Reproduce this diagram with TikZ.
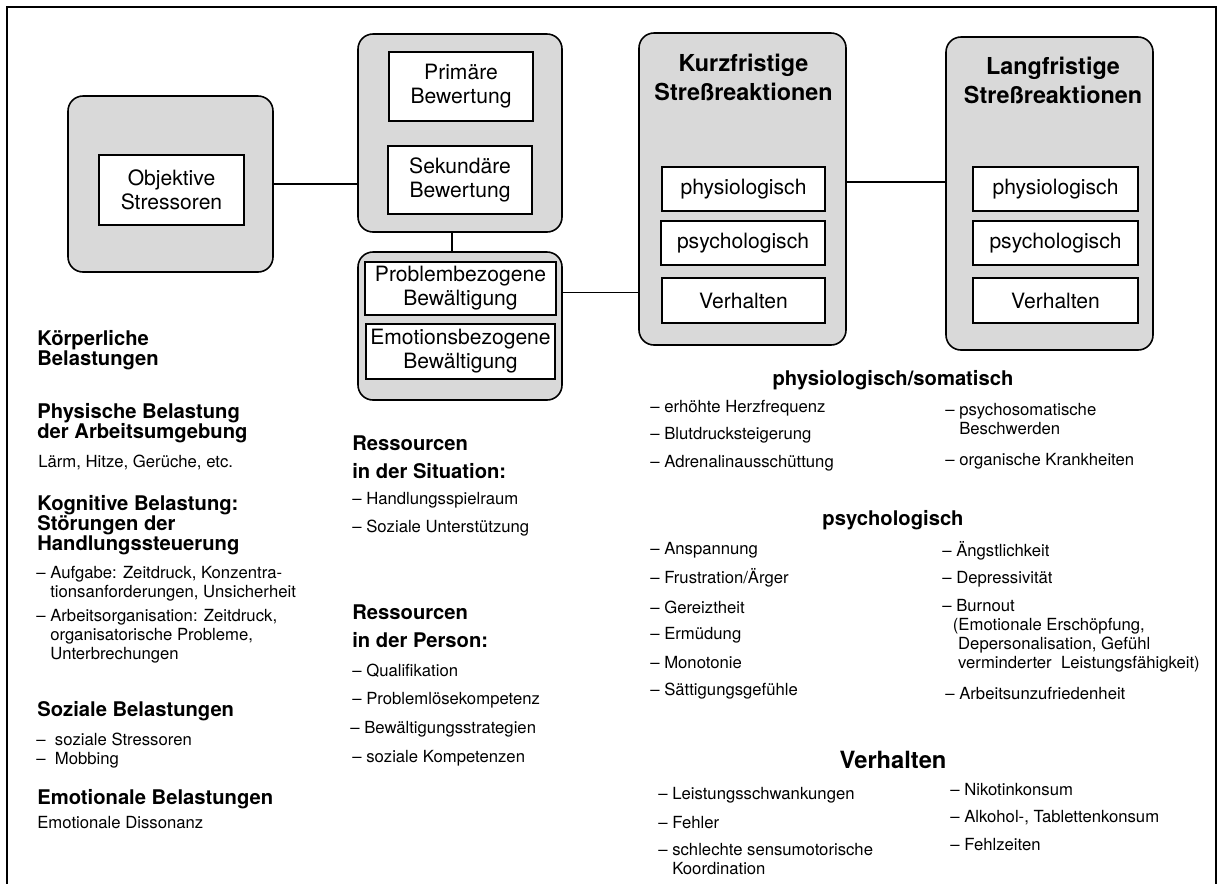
\documentclass[tikz,border=0pt]{standalone}
\usepackage{fontspec}
\setmainfont{TeX Gyre Heros}
\usepackage{tikz}
\definecolor{boxgray}{gray}{0.85}

\begin{document}
\begin{tikzpicture}[line cap=round,
  grey box/.style={draw, line width=0.9pt, fill=boxgray, rounded corners=0.3cm, inner sep=0pt},
  white box/.style={draw, line width=0.9pt, fill=white, inner sep=0pt, align=center, font=\fontsize{12}{13.6}\selectfont},
  box title/.style={align=center, inner sep=0pt, font=\bfseries\fontsize{13.3}{17}\selectfont},
  heading/.style={anchor=west, align=left, inner sep=0pt, font=\bfseries\fontsize{11.5}{11.5}\selectfont},
  res heading/.style={anchor=west, align=left, inner sep=0pt, font=\bfseries\fontsize{11.5}{15.9}\selectfont},
  item/.style={anchor=west, align=left, inner sep=0pt, font=\fontsize{9.5}{10.8}\selectfont},
  reaction/.style={inner sep=0pt, font=\bfseries\fontsize{11.5}{13}\selectfont}]
\useasboundingbox (0,0) rectangle (24.46,-17.66);

% frame, open at the bottom
\draw[line width=0.9pt] (0.14,-18) -- (0.14,-0.14) -- (24.32,-0.14) -- (24.32,-18);

% boxes
\node[grey box, minimum width=4.10cm, minimum height=3.52cm] (objektiv) at (3.41,-3.68) {};
\node[white box, minimum width=2.90cm, minimum height=1.40cm] (stressoren) at (3.43,-3.80) {Objektive\\Stressoren};

\node[grey box, minimum width=4.08cm, minimum height=3.96cm] (bewertung) at (9.20,-2.66) {};
\node[white box, minimum width=2.88cm, minimum height=1.38cm] (primaer) at (9.22,-1.73) {Primäre\\Bewertung};
\node[white box, minimum width=2.88cm, minimum height=1.36cm] (sekundaer) at (9.20,-3.60) {Sekundäre\\Bewertung};

\node[grey box, minimum width=4.08cm, minimum height=2.96cm] (bewaeltigung) at (9.20,-6.52) {};
\node[white box, minimum width=3.82cm, minimum height=1.06cm] (problem) at (9.21,-5.77) {Problembezogene\\Bewältigung};
\node[white box, minimum width=3.78cm, minimum height=1.10cm] (emotion) at (9.21,-7.03) {Emotionsbezogene\\Bewältigung};

\node[grey box, minimum width=4.14cm, minimum height=6.24cm] (kurz) at (14.85,-3.78) {};
\node[box title] (kurztitel) at (14.87,-1.55) {Kurzfristige\\Streßreaktionen};
\node[white box, minimum width=3.26cm, minimum height=0.88cm] (kphys) at (14.87,-3.78) {physiologisch};
\node[white box, minimum width=3.28cm, minimum height=0.88cm] (kpsych) at (14.86,-4.86) {psychologisch};
\node[white box, minimum width=3.26cm, minimum height=0.90cm] (kverh) at (14.87,-6.01) {Verhalten};

\node[grey box, minimum width=4.14cm, minimum height=6.26cm] (lang) at (20.99,-3.87) {};
\node[box title] (langtitel) at (21.06,-1.61) {Langfristige\\Streßreaktionen};
\node[white box, minimum width=3.30cm, minimum height=0.88cm] (lphys) at (21.11,-3.78) {physiologisch};
\node[white box, minimum width=3.30cm, minimum height=0.88cm] (lpsych) at (21.11,-4.86) {psychologisch};
\node[white box, minimum width=3.30cm, minimum height=0.90cm] (lverh) at (21.11,-6.01) {Verhalten};

% lines
\draw[line width=0.9pt] (objektiv.east) -- (objektiv.east -| bewertung.west);
\draw[line width=0.9pt] ([xshift=-0.16cm]bewertung.south) -- ([xshift=-0.16cm]bewaeltigung.north);
\draw[line width=0.9pt] ([yshift=-0.08cm]bewaeltigung.east |- problem.east) -- ([yshift=-0.08cm]kurz.west |- problem.east);
\draw[line width=0.9pt] ([yshift=0.14cm]kurz.east) -- ([yshift=0.14cm]kurz.east -| lang.west);

% Belastungen
\node[heading] (koerper) at (0.74,-7.00) {Körperliche\\Belastungen};
\node[heading] (physisch) at (0.74,-8.47) {Physische Belastung\\der Arbeitsumgebung};
\node[item] (laerm) at (0.76,-9.24) {Lärm, Hitze, Gerüche, etc.};
\node[heading] (kognitiv) at (0.74,-10.50) {Kognitive Belastung:\\Störungen der\\Handlungssteuerung};
\node[item] (aufgabe) at (0.72,-11.68) {– Aufgabe: Zeitdruck, Konzentra-\\\phantom{– }tionsanforderungen, Unsicherheit};
\node[item] (organisation) at (0.72,-12.72) {– Arbeitsorganisation: Zeitdruck,\\\phantom{– }organisatorische Probleme,\\\phantom{– }Unterbrechungen};
\node[heading] (sozial) at (0.74,-14.22) {Soziale Belastungen};
\node[item] (mobbing) at (0.72,-15.01) {–\ \ soziale Stressoren\\–\ \ Mobbing};
\node[heading] (emotional) at (0.74,-15.98) {Emotionale Belastungen};
\node[item] (dissonanz) at (0.74,-16.46) {Emotionale Dissonanz};

% Ressourcen
\node[res heading] (situation) at (7.04,-9.14) {Ressourcen\\in der Situation:};
\node[item] (spielraum) at (7.04,-10.00) {– Handlungsspielraum};
\node[item] (unterstuetzung) at (7.04,-10.56) {– Soziale Unterstützung};
\node[res heading] (person) at (7.04,-12.53) {Ressourcen\\in der Person:};
\node[item] (qualifikation) at (7.04,-13.42) {– Qualifikation};
\node[item] (problemloes) at (7.04,-14.00) {– Problemlösekompetenz};
\node[item] (strategien) at (7.00,-14.58) {– Bewältigungsstrategien};
\node[item] (kompetenz) at (7.04,-15.16) {– soziale Kompetenzen};

% Reaktionen
\node[reaction] (somatisch) at (17.86,-7.60) {physiologisch/somatisch};
\node[item] (herz) at (13.00,-8.16) {– erhöhte Herzfrequenz};
\node[item] (blutdruck) at (13.00,-8.70) {– Blutdrucksteigerung};
\node[item] (adrenalin) at (13.00,-9.26) {– Adrenalinausschüttung};
\node[item] (beschwerden) at (18.90,-8.39) {– psychosomatische\\\phantom{– }Beschwerden};
\node[item] (krankheit) at (18.90,-9.22) {– organische Krankheiten};

\node[reaction] (psycho) at (17.86,-10.40) {psychologisch};
\node[item] (anspannung) at (13.00,-11.00) {– Anspannung};
\node[item] (frustration) at (13.00,-11.56) {– Frustration/Ärger};
\node[item] (gereizt) at (13.00,-12.14) {– Gereiztheit};
\node[item] (ermuedung) at (13.00,-12.70) {– Ermüdung};
\node[item] (monotonie) at (13.00,-13.26) {– Monotonie};
\node[item] (saettigung) at (13.00,-13.82) {– Sättigungsgefühle};
\node[item] (angst) at (18.84,-11.02) {– Ängstlichkeit};
\node[item] (depression) at (18.84,-11.58) {– Depressivität};
\node[item] (burnout) at (18.84,-12.71) {– Burnout\\\hspace*{6pt}(Emotionale Erschöpfung,\\\hspace*{9pt}Depersonalisation, Gefühl\\\hspace*{9pt}verminderter\ \ Leistungsfähigkeit)};
\node[item] (unzufrieden) at (18.90,-13.86) {– Arbeitsunzufriedenheit};

\node[reaction, font=\bfseries\fontsize{13.5}{15}\selectfont] (verhalten) at (17.86,-15.20) {Verhalten};
\node[item] (leistung) at (13.16,-15.90) {– Leistungsschwankungen};
\node[item] (fehler) at (13.16,-16.46) {– Fehler};
\node[item] (sensumotorik) at (13.16,-17.18) {– schlechte sensumotorische\\\phantom{– }Koordination};
\node[item] (nikotin) at (19.00,-15.80) {– Nikotinkonsum};
\node[item] (alkohol) at (19.00,-16.36) {– Alkohol-, Tablettenkonsum};
\node[item] (fehlzeiten) at (19.00,-16.90) {– Fehlzeiten};

\end{tikzpicture}
\end{document}
